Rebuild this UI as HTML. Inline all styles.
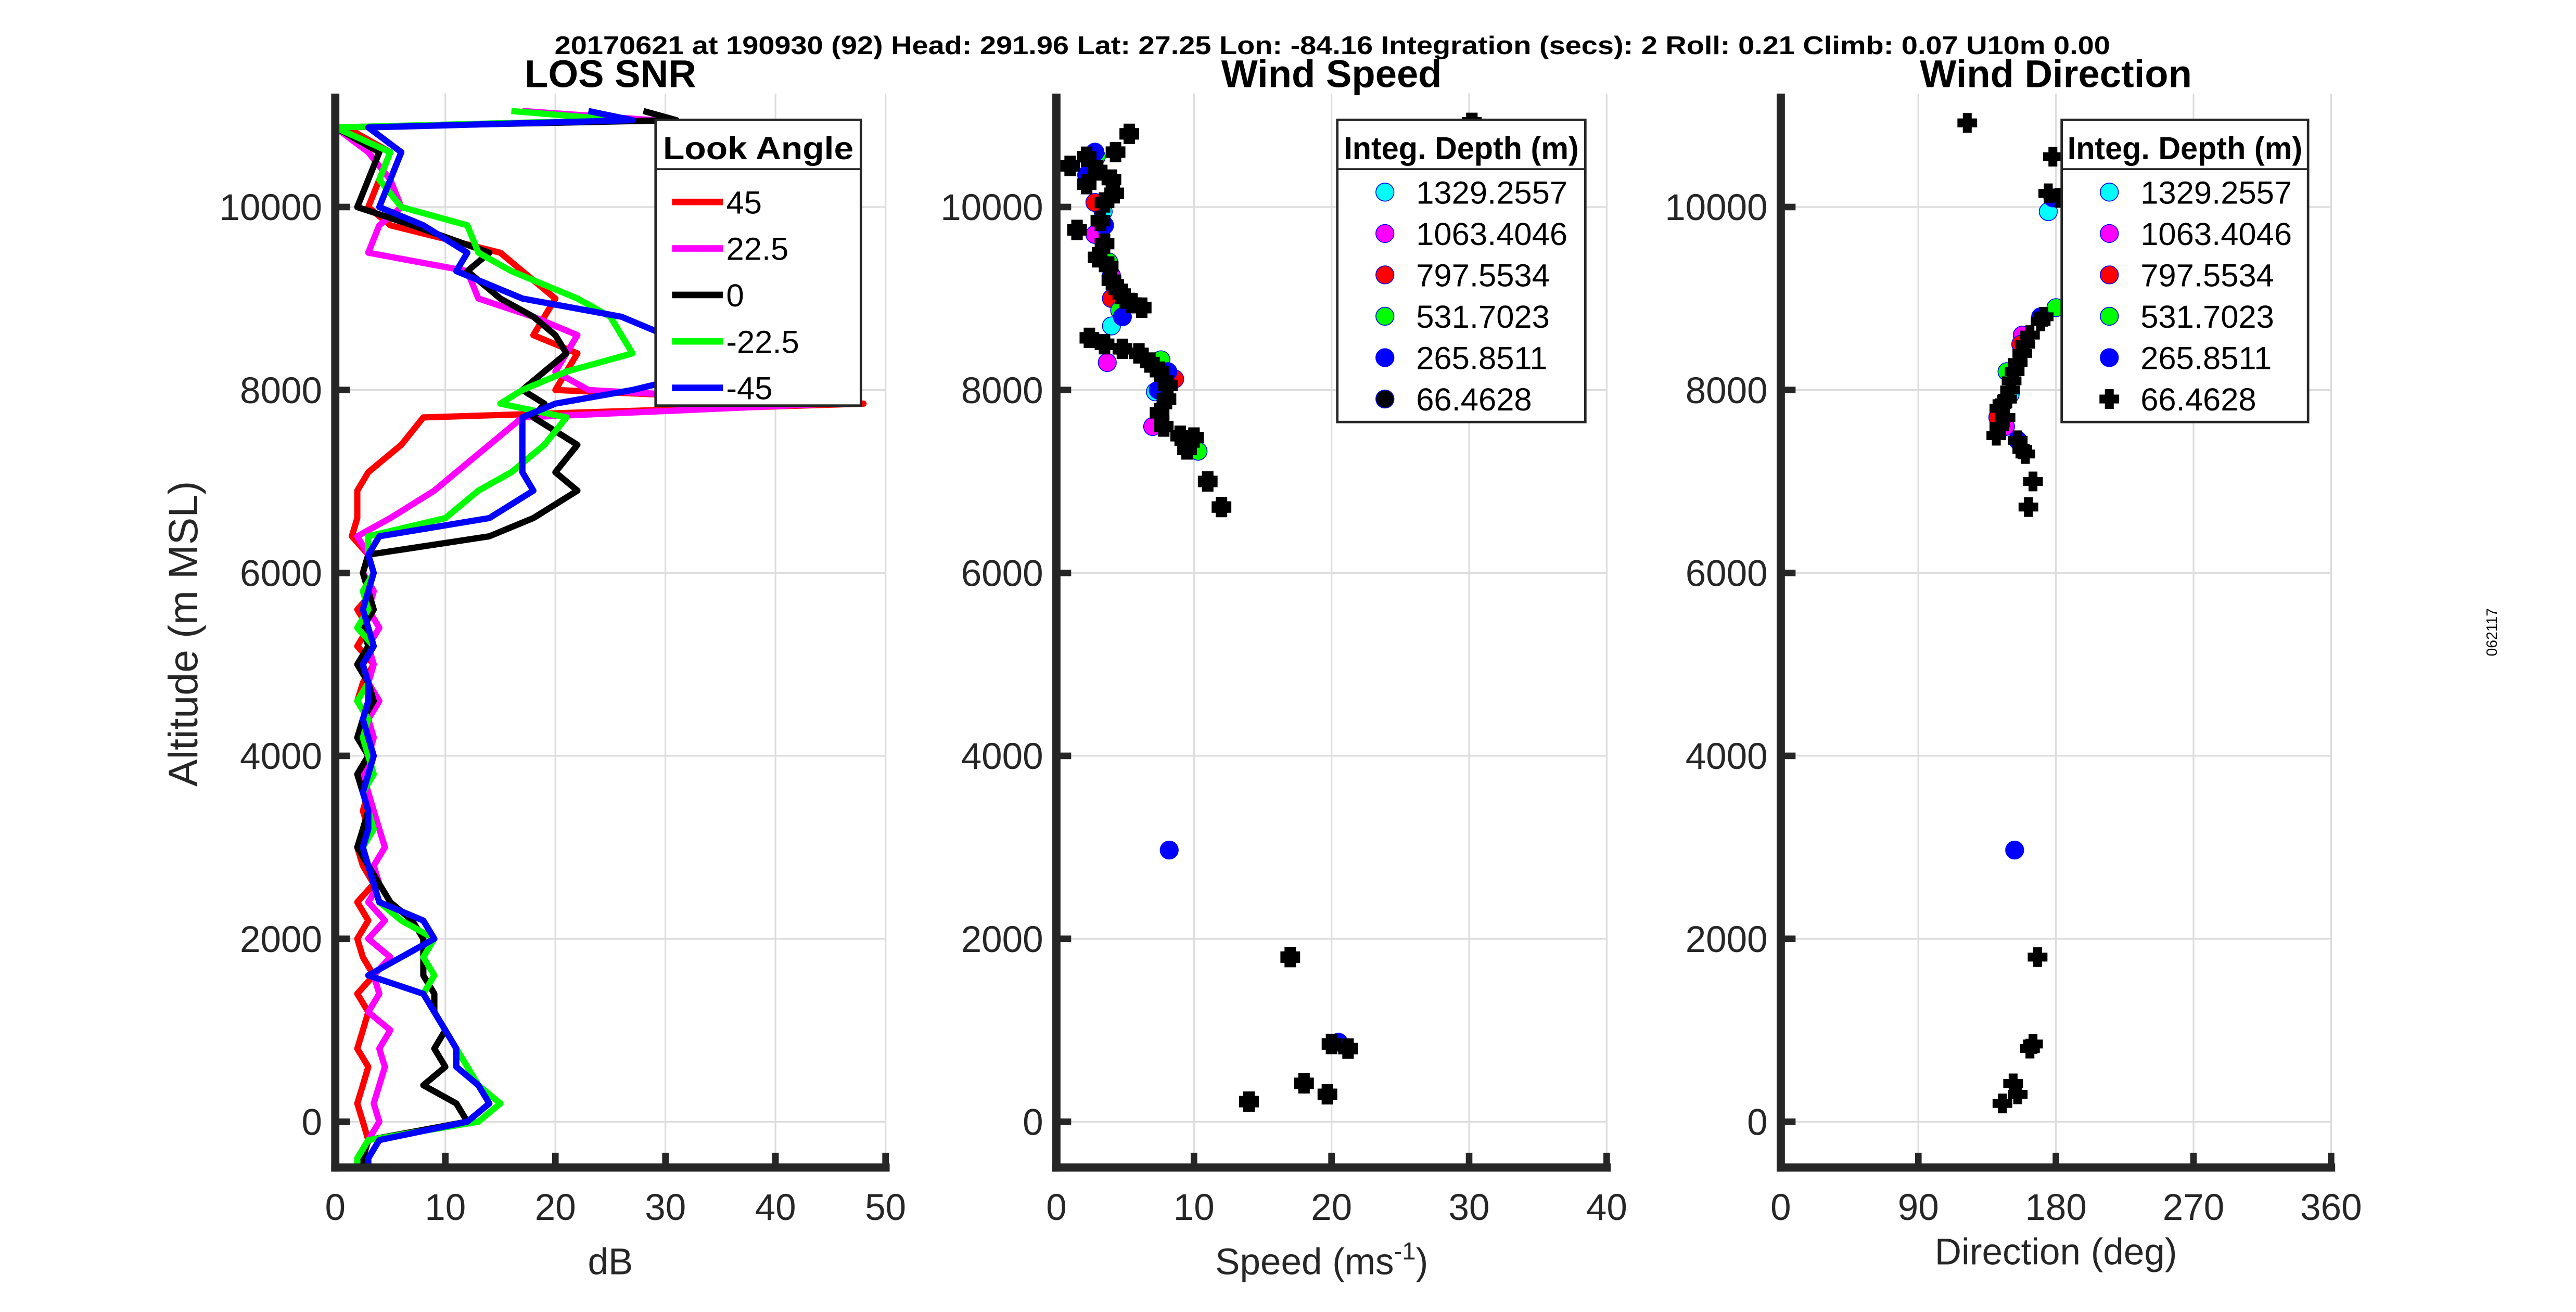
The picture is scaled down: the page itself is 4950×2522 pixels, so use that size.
<!DOCTYPE html>
<html><head><meta charset="utf-8"><title>Wind profile</title>
<style>
html,body{margin:0;padding:0;background:#fff;}
svg{display:block;}
text{font-family:"Liberation Sans",Arial,sans-serif;}
</style></head>
<body>
<svg id="fig" width="4950" height="2522" viewBox="0 0 1568 799" xmlns="http://www.w3.org/2000/svg">
<rect width="1568" height="799" fill="#fff"/>
<text x="811" y="33" text-anchor="middle" font-size="15.5" font-weight="bold" textLength="947" lengthAdjust="spacingAndGlyphs">20170621 at 190930 (92)  Head: 291.96  Lat: 27.25  Lon: -84.16  Integration (secs): 2  Roll: 0.21  Climb: 0.07  U10m 0.00</text>
<text x="1520" y="385" font-size="9" text-anchor="middle" transform="rotate(-90 1520 385)">062117</text>
<g id="root"></g>
</svg>
<script>
// ---------- DATA ----------
const altTicks = [0, 2000, 4000, 6000, 8000, 10000];
const snrTicks = [0, 10, 20, 30, 40, 50];
const spdTicks = [0, 10, 20, 30, 40];
const dirTicks = [0, 90, 180, 270, 360];
const lookAngles = ["45", "22.5", "0", "-22.5", "-45"];
const snrAlt = [11050,10950,10870,10600,10300,10000,9800,9500,9300,9000,8800,8600,8400,8200,8000,7850,7700,7400,7100,6900,6600,6400,
  6200,6000,5800,5600,5400,5200,5000,4800,4600,4400,4200,4000,3800,3600,3400,3200,3000,2800,2600,2400,2200,2000,1800,1600,1400,1200,1000,800,600,400,200,0,-200,-400,-500];
const snr45   = [17,28,1,5,4,3,5,15,17,20,19,18,22,21,20,48,8,6,3,2,2,1.5,
  3,2.5,3.5,2,3,2,3.5,2.5,2,3,2.5,3,2,3,2.5,3,2,2.5,3.5,2,3,2,2.5,3.5,2,3,2.5,2,3,2.5,2,2.5,3,2,2];
const snr225  = [17,29,0,3,5,6,4,3,12,13,18,22,21,20,23,45,17,14,11,9,5,2,
  3,2.5,3.5,3,4,3,3.5,3,4,3,3.5,3,2.5,3,3.5,4,4.5,3.5,4,3,4.5,3,5,3.5,4,3,5,4,4.5,4,3.5,4,3,2.5,2];
const snr0    = [28,31,0,4,3,2,7,14,12,15,18,20,21,19,17,19,18,22,20,22,18,14,
  3,2.5,3,3.5,2.5,3,2,3,3.5,2.5,2,3,2,2.5,3,2.5,2,3,4,5,7,8,8,8,9,9,10,9,10,8,11,12,3,2.5,2.5];
const snrm225 = [16,26,0,5,4,6,12,13,16,22,25,26,27,21,17,15,21,19,16,13,10,3,
  3,3.5,2.5,3,2,3.5,2.5,3,2,3,2.5,3,3.5,2.5,3,3.5,2.5,3,3.5,4,6,9,8,9,8,9,10,11,12,13,15,13,3,2,2];
const snrm45  = [23,27,3,6,5,4,8,12,11,17,26,30,33,34,27,20,17,17,17,18,14,4,
  3,3.5,3,2.5,3,3.5,2.5,3,3,2.5,3,3.5,3,2.5,3,3,2.5,3,3.5,4,8,9,6,3,8,9,10,11,11,13,14,12,4,3,3];
const depths = ["1329.2557","1063.4046","797.5534","531.7023","265.8511","66.4628"];
const spd1329 = [7.2,3.4,4.0]; const spdAlt1329 = [7980,9950,8700];
const spd1063 = [7.0,2.8,4.0,3.7]; const spdAlt1063 = [7600,9700,9250,8300];
const spd797  = [2.8,8.6,4.0]; const spdAlt797 = [10050,8120,9000];
const spd531  = [2.9,4.6,7.6,10.3,3.8]; const spdAlt531 = [10550,8870,8330,7330,9400];
const spd265  = [2.8,2.2,3.5,8.1,7.4,8.2,20.5,4.8]; const spdAlt265 = [10600,10350,9800,8200,8000,2970,870,8800];
const spd66   = [30.2,5.3,4.3,2.2,1.0,3.0,2.2,4.0,4.2,3.5,3.2,1.5,3.5,3.0,3.8,4.0,4.5,5.0,5.5,6.2,2.4,3.5,4.8,6.0,6.8,7.5,8.1,8.0,7.5,7.8,9.0,10.0,9.5,11.0,12.0,17.0,20.0,21.2,18.0,19.7,14.0];
const spdAlt66= [10920,10800,10600,10550,10450,10400,10250,10300,10150,10050,9850,9750,9600,9450,9350,9200,9100,9000,8950,8900,8570,8500,8450,8400,8300,8200,8050,7900,7750,7600,7500,7480,7350,7000,6720,1800,850,800,420,300,220];
const dir1329 = [150,175]; const dirAlt1329 = [7950,9950];
const dir1063 = [158,147]; const dirAlt1063 = [8600,7600];
const dir797  = [157,142]; const dirAlt797 = [8500,7700];
const dir531  = [180,148]; const dirAlt531 = [8900,8200];
const dir265  = [178,153,170,155]; const dirAlt265 = [10100,2970,8800,7450];
const dir66   = [122,178,175,182,170,172,163,160,158,155,153,151,150,148,145,143,147,143,141,155,158,160,165,162,168,165,163,152,155,145];
const dirAlt66= [10920,10550,10150,10100,8750,8800,8600,8500,8400,8300,8200,8100,8000,7900,7850,7800,7700,7600,7500,7450,7350,7300,7000,6720,1800,850,800,420,300,200];

// ---------- LAYOUT ----------
const NS = "http://www.w3.org/2000/svg";
const root = document.getElementById('root');
const yTop = 57, yBot = 711;
const altMin = -500, altMax = 11240;
function yAlt(a){ return yBot - (a - altMin) / (altMax - altMin) * (yBot - yTop); }
function mk(tag, attrs, parent){
  const e = document.createElementNS(NS, tag);
  for (const k in attrs) e.setAttribute(k, attrs[k]);
  (parent || root).appendChild(e);
  return e;
}
function txt(s, attrs, parent){ const t = mk('text', attrs, parent); t.textContent = s; return t; }

const panels = [
  {key:'snr', x0:204, x1:539, min:0, max:50, ticks:snrTicks, title:'LOS SNR', xlabel:'dB'},
  {key:'speed', x0:643, x1:978, min:0, max:40, ticks:spdTicks, title:'Wind Speed', xlabel:'Speed (ms'},
  {key:'direction', x0:1084, x1:1419, min:0, max:360, ticks:dirTicks, title:'Wind Direction', xlabel:'Direction (deg)'}
];
function xf(p){ return v => p.x0 + (v - p.min) / (p.max - p.min) * (p.x1 - p.x0); }

panels.forEach(p => {
  const g = mk('g', {});
  
  
  const X = xf(p);
  p.ticks.forEach(t => {
    if (t === p.min) return;
    const l = mk('line', {x1:X(t), x2:X(t), y1:yTop, y2:yBot, stroke:'#dcdcdc', 'stroke-width':1}, g);
    
    
  });
  altTicks.forEach(a => {
    const l = mk('line', {x1:p.x0, x2:p.x1, y1:yAlt(a), y2:yAlt(a), stroke:'#dcdcdc', 'stroke-width':1}, g);
    
    
  });
  p.g = g; p.X = X;
});

const snrSeries = [snr45, snr225, snr0, snrm225, snrm45];
const snrColors = ['#ff0000', '#ff00ff', '#000000', '#00ff00', '#0000ff'];
{
  const p = panels[0];
  snrSeries.forEach((s, i) => {
    const pts = s.map((v, j) => p.X(v).toFixed(1) + ',' + yAlt(snrAlt[j]).toFixed(1)).join(' ');
    const pl = mk('polyline', {points:pts, fill:'none', stroke:snrColors[i], 'stroke-width':3.8, 'stroke-linejoin':'round'}, p.g);
    
    
  });
}
const depthColors = ['#00ffff', '#ff00ff', '#ff0000', '#00ff00', '#0000ff', '#000000'];
function scatter(p, xs, ys, color, idx, plus){
  xs.forEach((v, j) => {
    const cx = p.X(v), cy = yAlt(ys[j]);
    if (plus) {
      const g2 = mk('g', {}, p.g);
      
      
      mk('rect', {x:cx-6, y:cy-2.7, width:12, height:5.4, fill:'#000'}, g2);
      mk('rect', {x:cx-2.7, y:cy-6, width:5.4, height:12, fill:'#000'}, g2);
    } else if (idx === 5) {
      const g2 = mk('g', {}, p.g);
      
      
      mk('rect', {x:cx-6, y:cy-3.5, width:12, height:7, fill:'#000'}, g2);
      mk('rect', {x:cx-3.5, y:cy-6.2, width:7, height:12.4, fill:'#000'}, g2);
      mk('circle', {cx:cx, cy:cy, r:5, fill:'#000'}, g2);
    } else {
      const c = mk('circle', {cx:cx, cy:cy, r:5.5, fill:color, stroke:'#0000ff', 'stroke-width':0.5}, p.g);
      
      
    }
  });
}
const spdX = [spd1329, spd1063, spd797, spd531, spd265, spd66];
const spdY = [spdAlt1329, spdAlt1063, spdAlt797, spdAlt531, spdAlt265, spdAlt66];
const dirX = [dir1329, dir1063, dir797, dir531, dir265, dir66];
const dirY = [dirAlt1329, dirAlt1063, dirAlt797, dirAlt531, dirAlt265, dirAlt66];
for (let i = 0; i < 6; i++) scatter(panels[1], spdX[i], spdY[i], depthColors[i], i, false);
for (let i = 0; i < 6; i++) scatter(panels[2], dirX[i], dirY[i], depthColors[i], i, i === 5);

panels.forEach((p, pi) => {
  const g = p.g, X = p.X;
  const ax = mk('line', {x1:p.x0, x2:p.x0, y1:yTop, y2:yBot+2.5, stroke:'#262626', 'stroke-width':5}, g);
  
  
  const bx = mk('line', {x1:p.x0-2.5, x2:p.x1+2.5, y1:yBot, y2:yBot, stroke:'#262626', 'stroke-width':5}, g);
  
  
  p.ticks.forEach(t => {
    if (t !== p.min) mk('line', {x1:X(t), x2:X(t), y1:yBot, y2:yBot-9, stroke:'#262626', 'stroke-width':4}, g);
    const lb = txt(String(t), {x:X(t), y:743, 'text-anchor':'middle', 'font-size':22.5, fill:'#262626'}, g);
    
    
  });
  altTicks.forEach(a => {
    mk('line', {x1:p.x0, x2:p.x0+9, y1:yAlt(a), y2:yAlt(a), stroke:'#262626', 'stroke-width':4}, g);
    const lb = txt(String(a), {x:p.x0-8, y:yAlt(a)+8, 'text-anchor':'end', 'font-size':22.5, fill:'#262626'}, g);
    
    
  });
  const tt = txt(p.title, {x:(p.x0+p.x1)/2, y:53, 'text-anchor':'middle', 'font-size':23.5, 'font-weight':'bold'}, g);
  
  
  const xl = txt(p.xlabel, {x:(p.x0+p.x1)/2 + (pi===1?-6:0), y:pi===2?770:776, 'text-anchor':'middle', 'font-size':22.5, fill:'#262626'}, g);
  
  
  if (pi === 1) {
    const sup = mk('tspan', {'font-size':15, dy:-9}, xl); sup.textContent = '-1';
    const cl = mk('tspan', {dy:9}, xl); cl.textContent = ')';
  }
});
const yl = txt('Altitude (m MSL)', {x:0, y:0, 'text-anchor':'middle', 'font-size':25, fill:'#262626', transform:'translate(120 386) rotate(-90)'});



function legend(x, y, w, h, title, titleLen, items, kind){
  const g = mk('g', {});
  
  
  mk('rect', {x:x, y:y, width:w, height:h, fill:'#fff', stroke:'#262626', 'stroke-width':1.5}, g);
  mk('line', {x1:x, x2:x+w, y1:y+30, y2:y+30, stroke:'#262626', 'stroke-width':1.2}, g);
  const t = txt(title, {x:x+w/2, y:y+24, 'text-anchor':'middle', 'font-size':19.5, 'font-weight':'bold', textLength:titleLen, lengthAdjust:'spacingAndGlyphs'}, g);
  
  
  items.forEach((it, i) => {
    const e = mk('g', {}, g);
    
    
    const cy = kind === 'line' ? y + 50 + i*28.3 : y + 44 + i*25.2;
    if (kind === 'line') {
      mk('line', {x1:x+10, x2:x+41, y1:cy, y2:cy, stroke:it.c, 'stroke-width':4}, e);
      txt(it.l, {x:x+43, y:cy+7, 'font-size':19.5}, e);
    } else {
      if (it.plus) {
        mk('rect', {x:x+23, y:cy-2.7, width:12, height:5.4, fill:'#000'}, e);
        mk('rect', {x:x+26.3, y:cy-6, width:5.4, height:12, fill:'#000'}, e);
      } else {
        mk('circle', {cx:x+29, cy:cy, r:5.5, fill:it.c, stroke:'#0000ff', 'stroke-width':0.5}, e);
      }
      txt(it.l, {x:x+48, y:cy+7, 'font-size':19.5}, e);
    }
  });
}
legend(399, 73, 125, 174, 'Look Angle', 116, lookAngles.map((l, i) => ({l:l, c:snrColors[i]})), 'line');
legend(814, 73, 151, 184, 'Integ. Depth (m)', 143, depths.map((l, i) => ({l:l, c:depthColors[i], plus:false})), 'dot');
legend(1255, 73, 150, 184, 'Integ. Depth (m)', 143, depths.map((l, i) => ({l:l, c:depthColors[i], plus:i===5})), 'dot');
</script>
</body></html>
